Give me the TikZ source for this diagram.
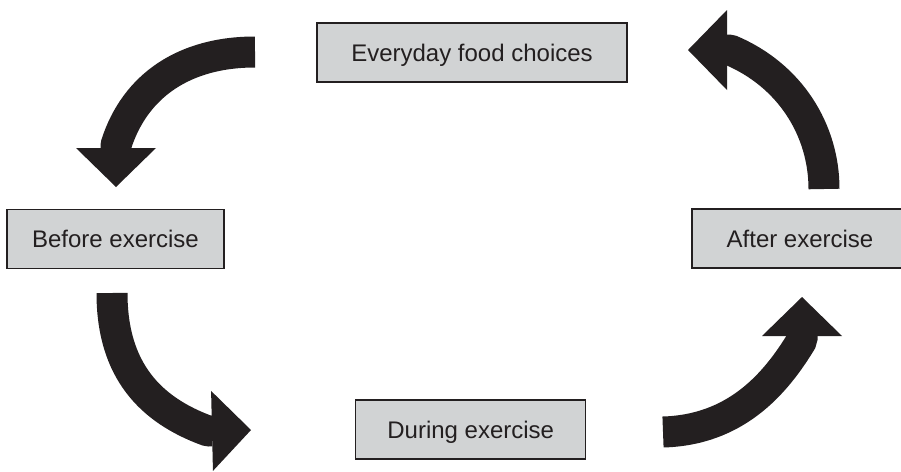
\documentclass[tikz,border=0pt]{standalone}
\usepackage{fontspec}
\setmainfont{Liberation Sans}
\usetikzlibrary{arrows.meta,positioning}
\definecolor{inkdark}{HTML}{231F20}
\definecolor{boxgray}{HTML}{D1D3D4}

\begin{document}
\begin{tikzpicture}[
    x=1pt, y=-1pt,
    font=\fontsize{24}{29}\selectfont,
    stage/.style={draw=inkdark, line width=1.2pt, fill=boxgray, text=inkdark, minimum width=#1,
                  minimum height=59pt, text height=18pt, text depth=0pt, inner sep=0pt},
    turn/.style={-{Triangle[width=80pt, length=39pt, line width=0pt]}, line width=31pt, inkdark,
                 line join=bevel},
]
  \useasboundingbox (0,0) rectangle (901,471);
  \clip (0,0) rectangle (901,471);
  %% stages
  \node[stage=310pt] (food) at (472,52.5) {Everyday food choices};
  \node[stage=217pt] (before) at (115.5,238.7) {Before exercise};
  \node[stage=216pt] (after) at (800,238.5) {After exercise};
  \node[stage=230pt] (during) at (470.7,429.5) {During exercise};
  %% turns of the cycle
  \coordinate (fb1) at (255,52);  \coordinate (fb2) at (116,145); \coordinate (fb3) at (116,187);
  \coordinate (bd1) at (112,293); \coordinate (bd2) at (208,431); \coordinate (bd3) at (251,430);
  \coordinate (da1) at (663,432); \coordinate (da2) at (802,340); \coordinate (da3) at (802,297);
  \coordinate (af1) at (824,189); \coordinate (af2) at (730,50);  \coordinate (af3) at (688,50);
  \draw[turn] (fb1) .. controls (185,52) and (135,85) .. (fb2) -- (fb3);
  \draw[turn] (bd1) .. controls (112,370) and (150,410) .. (bd2) -- (bd3);
  \draw[turn] (da1) .. controls (735,430) and (775,385) .. (da2) -- (da3);
  \draw[turn] (af1) .. controls (824,130) and (790,75) .. (af2) -- (af3);
\end{tikzpicture}
\end{document}
